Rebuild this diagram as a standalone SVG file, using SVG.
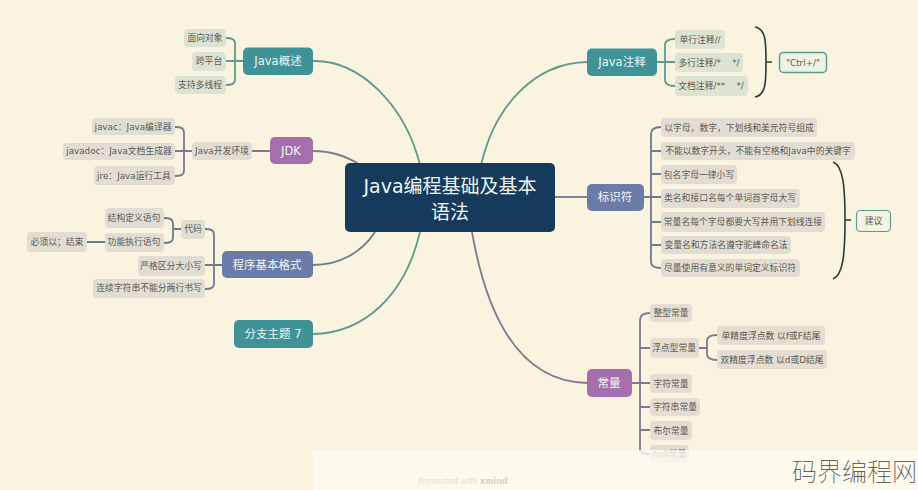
<svg xmlns="http://www.w3.org/2000/svg" width="918" height="490" viewBox="0 0 918 490">
<style>
text{font-family:"DejaVu Sans","Noto Sans CJK SC",sans-serif;}
.c{fill:none;stroke-width:1.8;}
.t{stroke:#5f9a90;}.p{stroke:#8a7290;}.b{stroke:#6f7a90;}.br{fill:none;stroke:#2a3a3a;stroke-width:1.6;}
.m{font-size:11.5px;fill:#eef6f2;text-anchor:middle;dominant-baseline:central;}
.l{font-size:8.8px;fill:#5c5a50;text-anchor:middle;dominant-baseline:central;}
.gt{fill:#dce3d3;}.gg{fill:#e2ddd3;}.gp{fill:#e5dcd2;}
.tl{fill:#3f9298;}.pu{fill:#a56fad;}.bl{fill:#6c7ca8;}
</style>
<rect width="918" height="490" fill="#faf3df"/>
<g id="connectors">
<path class="c t" d="M313 61C360 60 405 105 420 165"/>
<path class="c p" d="M313 151C330 151 345 155 360 165"/>
<path class="c b" d="M313 265C340 265 362 252 375 232"/>
<path class="c t" d="M313 334C365 333 405 295 420 232"/>
<path class="c t" d="M587 62C535 63 495 105 481 165"/>
<path class="c b" d="M555 197H587"/>
<path class="c p" d="M587 383C530 382 490 335 472 232"/>
<path class="c t" d="M243 61H226M226 38C232 38 235 39 235 44V79C235 84 232 85 226 85"/>
<path class="c p" d="M270 151H252M192 151H175M175 127C181 127 184 128 184 133V170C184 175 181 176 175 176"/>
<path class="c b" d="M181 229H173M164 218C170 218 173 219 173 224V237C173 242 170 243 164 243M105 242H87"/>
<path class="c b" d="M222 265H205M205 229C211 229 214 230 214 235V283C214 288 211 289 205 289"/>
<path class="c t" d="M657 62H675M675 39C669 39 665 40 665 45V80C665 85 669 86 675 86"/>
<path class="c b" d="M587 197H661M661 127C655 127 651 129 651 134V262C651 267 655 268 661 268M651 151H661M651 174H661M651 222H661M651 245H661"/>
<path class="c p" d="M587 383H650M650 313C644 313 640 315 640 320V450C640 453 644 454 650 454M640 348H650M640 407H650M640 430H650"/>
<path class="c p" d="M699 348H707M717 335C711 335 707 337 707 341V354C707 358 711 360 717 360"/>
<path class="br" d="M755 27C766 29 766 42 766 62C766 82 766 95 755 97M766 62H772"/>
<path class="br" d="M833 162C843 166 845 185 845 220C845 255 843 275 833 279M845 220H851"/>
</g>
<g id="central"><rect x="345" y="163" width="210" height="69" rx="5" fill="#153a5c"/><text x="450" y="186" font-size="19" fill="#eef6f2" text-anchor="middle" dominant-baseline="central">Java编程基础及基本</text><text x="450" y="212" font-size="19" fill="#eef6f2" text-anchor="middle" dominant-baseline="central">语法</text></g>
<g id="java-overview"><rect class="tl" x="243" y="47.5" width="70" height="27.5" rx="5"/><text class="m" x="278" y="61">Java概述</text></g>
<g id="jdk"><rect class="pu" x="270" y="137" width="43" height="27" rx="5"/><text class="m" x="291" y="151">JDK</text></g>
<g id="format"><rect class="bl" x="222" y="251" width="91" height="27" rx="5"/><text class="m" x="267" y="265">程序基本格式</text></g>
<g id="branch7"><rect class="tl" x="234" y="320" width="79" height="28" rx="5"/><text class="m" x="273" y="334">分支主题 7</text></g>
<g id="java-comment"><rect class="tl" x="587" y="48.5" width="70" height="27.5" rx="5"/><text class="m" x="622" y="62">Java注释</text></g>
<g id="identifier"><rect class="bl" x="587" y="184" width="57" height="27" rx="5"/><text class="m" x="615" y="197">标识符</text></g>
<g id="constant"><rect class="pu" x="587" y="369" width="45" height="28" rx="5"/><text class="m" x="609" y="383">常量</text></g>

<g id="n1"><rect class="gt" x="184" y="29" width="42" height="18" rx="4"/><text class="l" x="205" y="38">面向对象</text></g>
<g id="n2"><rect class="gt" x="192" y="52" width="34" height="19" rx="4"/><text class="l" x="209" y="61">跨平台</text></g>
<g id="n3"><rect class="gt" x="175" y="76" width="51" height="18" rx="4"/><text class="l" x="200" y="85">支持多线程</text></g>
<g id="n4"><rect class="gg" x="192" y="142" width="60" height="18" rx="4"/><text class="l" x="222" y="151">Java开发环境</text></g>
<g id="n5"><rect class="gg" x="92" y="118" width="83" height="17" rx="4"/><text class="l" x="133" y="127">javac：Java编译器</text></g>
<g id="n6"><rect class="gg" x="63" y="143" width="112" height="17" rx="4"/><text class="l" x="119" y="151">javadoc：Java文档生成器</text></g>
<g id="n7"><rect class="gg" x="94" y="166" width="81" height="19" rx="4"/><text class="l" x="134" y="176">jre：Java运行工具</text></g>
<g id="n8"><rect class="gg" x="181" y="220" width="24" height="19" rx="4"/><text class="l" x="193" y="229">代码</text></g>
<g id="n9"><rect class="gg" x="105" y="208" width="59" height="20" rx="4"/><text class="l" x="134" y="218">结构定义语句</text></g>
<g id="n10"><rect class="gg" x="105" y="233" width="59" height="19" rx="4"/><text class="l" x="134" y="242">功能执行语句</text></g>
<g id="n11"><rect class="gg" x="27" y="232" width="60" height="20" rx="4"/><text class="l" x="57" y="242">必须以；结束</text></g>
<g id="n12"><rect class="gg" x="138" y="256" width="67" height="20" rx="4"/><text class="l" x="171" y="266">严格区分大小写</text></g>
<g id="n13"><rect class="gg" x="93" y="279" width="112" height="19" rx="4"/><text class="l" x="149" y="288">连续字符串不能分两行书写</text></g>

<g id="n14"><rect class="gt" x="675" y="30" width="50" height="19" rx="4"/><text class="l" x="700" y="39.5">单行注释//</text></g>
<g id="n15"><rect class="gt" x="675" y="53" width="68" height="19" rx="4"/><text class="l" x="709" y="62.5" xml:space="preserve">多行注释/*    */</text></g>
<g id="n16"><rect class="gt" x="675" y="76" width="73" height="20" rx="4"/><text class="l" x="711" y="86" xml:space="preserve">文档注释/**    */</text></g>
<g id="n17"><rect x="779.500" y="52.500" width="47" height="20" rx="4" fill="#eef2e4" stroke="#5f9a90" stroke-width="1.5"/><text class="l" x="803" y="62.500">"Ctrl+/"</text></g>

<g id="n18"><rect class="gg" x="661" y="118" width="156" height="19" rx="4"/><text class="l" x="739" y="127.5">以字母，数字，下划线和美元符号组成</text></g>
<g id="n19"><rect class="gg" x="661" y="142" width="194" height="18" rx="4"/><text class="l" x="758" y="151">不能以数字开头，不能有空格和Java中的关键字</text></g>
<g id="n20"><rect class="gg" x="661" y="165" width="76" height="19" rx="4"/><text class="l" x="699" y="174.5">包名字母一律小写</text></g>
<g id="n21"><rect class="gg" x="661" y="189" width="139" height="19" rx="4"/><text class="l" x="730" y="198">类名和接口名每个单词首字母大写</text></g>
<g id="n22"><rect class="gg" x="661" y="212" width="164" height="20" rx="4"/><text class="l" x="743" y="222">常量名每个字母都要大写并用下划线连接</text></g>
<g id="n23"><rect class="gg" x="661" y="236" width="130" height="18" rx="4"/><text class="l" x="726" y="245">变量名和方法名遵守驼峰命名法</text></g>
<g id="n24"><rect class="gg" x="661" y="259" width="139" height="18" rx="4"/><text class="l" x="730" y="268">尽量使用有意义的单词定义标识符</text></g>
<g id="n25"><rect x="856.500" y="210.500" width="34" height="21" rx="4" fill="#f4f2e2" stroke="#5f9a90" stroke-width="1.2"/><text class="l" x="873.500" y="221">建议</text></g>

<g id="n26"><rect class="gp" x="650" y="304" width="42" height="18" rx="4"/><text class="l" x="671" y="313">整型常量</text></g>
<g id="n27"><rect class="gp" x="650" y="338" width="49" height="20" rx="4"/><text class="l" x="674" y="348">浮点型常量</text></g>
<g id="n28"><rect class="gp" x="717" y="326" width="108" height="19" rx="4"/><text class="l" x="771" y="335.500">单精度浮点数 以f或F结尾</text></g>
<g id="n29"><rect class="gp" x="717" y="350" width="110" height="19" rx="4"/><text class="l" x="772" y="360">双精度浮点数 以d或D结尾</text></g>
<g id="n30"><rect class="gp" x="650" y="374" width="42" height="19" rx="4"/><text class="l" x="671" y="383.500">字符常量</text></g>
<g id="n31"><rect class="gp" x="650" y="398" width="50" height="18" rx="4"/><text class="l" x="675" y="407">字符串常量</text></g>
<g id="n32"><rect class="gp" x="650" y="421" width="42" height="19" rx="4"/><text class="l" x="671" y="430.500">布尔常量</text></g>
<g id="n33"><rect class="gp" x="650" y="445" width="39" height="18" rx="4"/><text class="l" x="669.500" y="454">null常量</text></g>

<rect x="313" y="450" width="605" height="40" fill="#fdfaf0" fill-opacity="0.8"/>
<text x="418" y="484" font-size="8" fill="#e2dfd6">Presented with <tspan font-weight="bold" fill="#d6d3ca">xmind</tspan></text>
<text x="792" y="481" font-size="25" font-weight="100" fill="#444">码界编程网</text>
</svg>
